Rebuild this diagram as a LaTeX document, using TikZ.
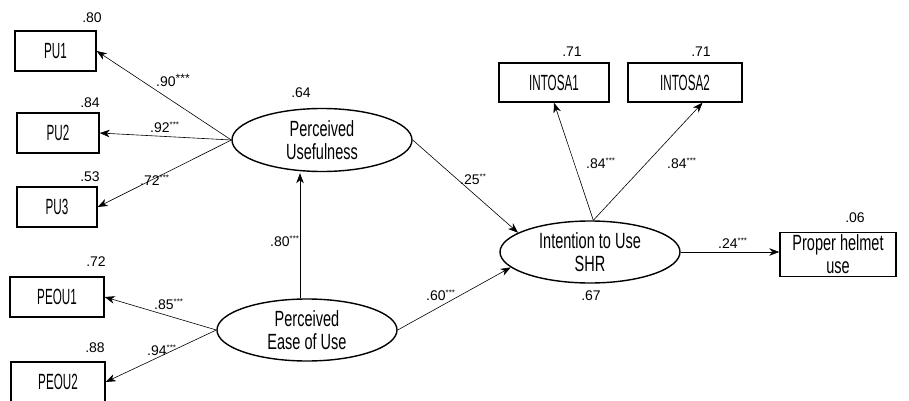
\documentclass[tikz,border=0pt]{standalone}
\usepackage{fontspec}
\setmainfont{Liberation Sans}
\newfontfamily\capf[FakeStretch=0.53]{Liberation Sans}
\newfontfamily\lowf[FakeStretch=0.66]{Liberation Sans}
\usetikzlibrary{arrows.meta,shapes.geometric}
\newcommand{\st}[1]{\raisebox{5pt}{\fontsize{8}{8}\selectfont #1}}
\newcommand{\stbig}[1]{\raisebox{4pt}{\fontsize{12}{12}\selectfont #1}}
\begin{document}
\begin{tikzpicture}[x=1pt,y=-1pt,
  box/.style={draw,line width=1.4pt,rectangle,inner sep=0pt,font=\capf\fontsize{22}{23}\selectfont},
  lbox/.style={draw,line width=1.4pt,rectangle,inner sep=0pt,align=center,font=\lowf\fontsize{22}{23}\selectfont},
  lat/.style={draw,line width=1.4pt,ellipse,inner sep=0pt,minimum width=180pt,minimum height=63pt,align=center,font=\lowf\fontsize{22}{23}\selectfont},
  arr/.style={line width=0.6pt,-{Stealth[length=10pt,width=7.5pt,inset=3pt]}},
  num/.style={inner sep=0pt,font=\fontsize{14}{14}\selectfont},
  coef/.style={inner sep=0pt,anchor=base west,font=\fontsize{14}{14}\selectfont}]
\useasboundingbox (0,0) rectangle (909,401);

% observed variables
\node[box,minimum width=81pt,minimum height=40pt] (PU1) at (55.5,51) {PU1};
\node[box,minimum width=82pt,minimum height=40pt] (PU2) at (58,133) {PU2};
\node[box,minimum width=80pt,minimum height=40pt] (PU3) at (57,207) {PU3};
\node[box,minimum width=94pt,minimum height=40pt] (PEOU1) at (57,297) {PEOU1};
\node[box,minimum width=94pt,minimum height=40pt] (PEOU2) at (58,382) {PEOU2};
\node[box,minimum width=110pt,minimum height=39pt] (INTOSA1) at (554,82.5) {INTOSA1};
\node[box,minimum width=114pt,minimum height=39pt] (INTOSA2) at (685,82.5) {INTOSA2};
\node[lbox,minimum width=116pt,minimum height=44pt] (PHU) at (838,254.5) {Proper helmet\\use};

% latent variables
\node[lat] (PU) at (322,140) {Perceived\\Usefulness};
\node[lat,minimum height=62pt] (PEOU) at (307,330) {Perceived\\Ease of Use};
\node[lat,minimum height=62pt] (INT) at (590,252) {Intention to Use\\SHR};

% R-squared labels
\node[num] (r1) at (92,18) {.80};
\node[num] (r2) at (90,103) {.84};
\node[num] (r3) at (90,177) {.53};
\node[num] (r4) at (96,262) {.72};
\node[num] (r5) at (95,348) {.88};
\node[num] (r6) at (301,93) {.64};
\node[num] (r7) at (572,52) {.71};
\node[num] (r8) at (701,52) {.71};
\node[num] (r9) at (855,218) {.06};
\node[num] (r10) at (591,296) {.67};

% connectors
\draw[arr] (PU.west) -- (PU1.east);
\draw[arr] (PU.west) -- (PU2.east);
\draw[arr] (PU.west) -- (PU3.east);
\draw[arr] (PEOU.west) -- (PEOU1.east);
\draw[arr] (PEOU.west) -- (PEOU2.east);
\draw[arr] ([xshift=-7pt]PEOU.north) -- ([xshift=-22pt,yshift=-1pt]PU.south);
\draw[arr] (PU.east) -- (INT.165);
\draw[arr] (PEOU.east) -- (INT.191);
\draw[arr] (INT.84) -- (INTOSA1.south);
\draw[arr] (INT.84) -- (INTOSA2.-49);
\draw[arr] (INT.east) -- (INT.east -| PHU.west);

% coefficients
\node[coef] (c1) at (156,87) {.90\stbig{***}};
\node[coef] (c2) at (150,132) {.92\st{***}};
\node[coef] (c3) at (140,185) {.72\st{***}};
\node[coef] (c4) at (154,309) {.85\st{***}};
\node[coef] (c5) at (147,355) {.94\st{***}};
\node[coef] (c6) at (270,246) {.80\st{***}};
\node[coef] (c7) at (460,184) {.25\st{**}};
\node[coef] (c8) at (426,300) {.60\st{***}};
\node[coef] (c9) at (586,168) {.84\st{***}};
\node[coef] (c10) at (667,168) {.84\st{***}};
\node[coef] (c11) at (718,248) {.24\st{***}};
\end{tikzpicture}
\end{document}
